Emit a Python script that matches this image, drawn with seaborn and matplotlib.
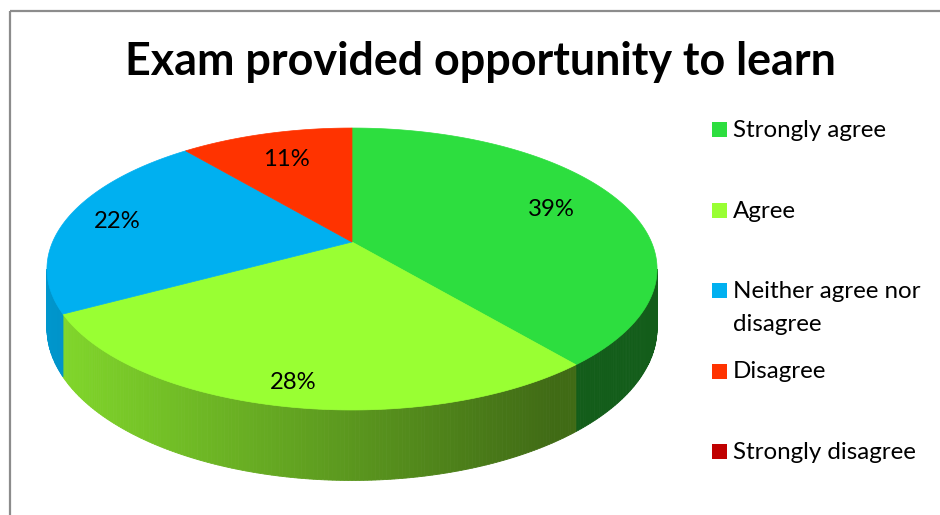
import numpy as np
import matplotlib
matplotlib.use("Agg")
import matplotlib.pyplot as plt
from matplotlib.patches import Polygon, Rectangle
import seaborn as sns

# ---- data ----
title = "Exam provided opportunity to learn"
categories = ["Strongly agree", "Agree", "Neither agree nor\ndisagree",
              "Disagree", "Strongly disagree"]
shares = [39, 28, 22, 11, 0]
colors = ["#2DDE3F", "#99FF33", "#00B0F0", "#FF3300", "#C00000"]

# ---- layout of the tilted pie (pixel space) ----
CX, CY = 352.0, 242.0      # hub of the pie
A, B = 299.4, 135.8        # horizontal / vertical radius scale
K = 0.1915                 # perspective strength
H = 57.0                   # disc thickness
LABEL_R = [0.74, 0.88, 0.82, 0.73, 0.8]

sns.set_theme(style="white")
palette = sns.color_palette(colors)
plt.rcParams["font.family"] = ["Lato", "DejaVu Sans"]

fig = plt.figure(figsize=(9.4, 5.15), dpi=100)
ax = fig.add_axes([0, 0, 1, 1])
ax.set_xlim(0, 940)
ax.set_ylim(515, 0)
ax.axis("off")


def project(phi, r=1.0, drop=0.0):
    """phi: clockwise angle from 12 o'clock (radians)."""
    u = r * np.sin(phi)
    v = -r * np.cos(phi)
    s = 1.0 / (1.0 - K * v)
    return CX + A * u * s, CY + B * v * s + drop * s


def shade(rgb, x):
    f = 0.85 - 0.45 * (x - 50.0) / 525.0
    f = min(max(f, 0.42), 0.9)
    return tuple(c * f for c in rgb)


total = float(sum(shares))
bounds = np.concatenate([[0.0], np.cumsum(shares) / total * 2 * np.pi])

# visible outer wall: front arc between the two silhouette points
phi_lo = np.arccos(-K)
phi_hi = 2 * np.pi - phi_lo

# side walls
for i, val in enumerate(shares):
    if val == 0:
        continue
    a0, a1 = max(bounds[i], phi_lo), min(bounds[i + 1], phi_hi)
    if a1 <= a0:
        continue
    n = max(int((a1 - a0) / (2 * np.pi) * 600), 2)
    ph = np.linspace(a0, a1, n + 1)
    for p0, p1 in zip(ph[:-1], ph[1:]):
        x0, y0 = project(p0)
        x1, y1 = project(p1)
        x0b, y0b = project(p0, drop=H)
        x1b, y1b = project(p1, drop=H)
        col = shade(palette[i], 0.5 * (x0 + x1))
        ax.add_patch(Polygon([(x0, y0), (x1, y1), (x1b, y1b), (x0b, y0b)],
                             closed=True, facecolor=col, edgecolor=col,
                             lw=0.6, antialiased=True))

# top faces
for i, val in enumerate(shares):
    if val == 0:
        continue
    ph = np.linspace(bounds[i], bounds[i + 1], max(int(val * 8), 4))
    xs, ys = project(ph)
    pts = [(CX, CY)] + list(zip(xs, ys))
    ax.add_patch(Polygon(pts, closed=True, facecolor=palette[i],
                         edgecolor=palette[i], lw=0.5, antialiased=True))

renderer = fig.canvas.get_renderer()


def fit(txt, width):
    bb = txt.get_window_extent(renderer)
    txt.set_fontsize(txt.get_fontsize() * width / bb.width)
    return txt.get_fontsize()


# percentage labels
lab_size = None
for i, val in enumerate(shares):
    if val == 0:
        continue
    mid = 0.5 * (bounds[i] + bounds[i + 1])
    lx, ly = project(mid, r=LABEL_R[i])
    t = ax.text(lx, ly, f"{val}%", ha="center", va="center",
                fontsize=18, color="black")
    if lab_size is None:
        lab_size = fit(t, 47)
    else:
        t.set_fontsize(lab_size)

# title
tt = ax.text(480.5, 75, title, ha="center", va="baseline",
             fontsize=30, fontweight="bold", color="black")
fit(tt, 711)

# legend
leg_size = None
for i, lab in enumerate(categories):
    base = 137 + 80.5 * i
    ax.add_patch(Rectangle((712, base - 15), 15, 15, facecolor=palette[i],
                           edgecolor="none"))
    lines = lab.split("\n")
    for j, line in enumerate(lines):
        t = ax.text(733, base + 33 * j, line, ha="left", va="baseline",
                    fontsize=16, color="black")
        if leg_size is None:
            leg_size = fit(t, 154)
        else:
            t.set_fontsize(leg_size)

# chart frame (top and left edges)
ax.plot([9.5, 940], [11, 11], color="#8C8C8C", lw=1.6, solid_capstyle="butt")
ax.plot([9.5, 9.5], [11, 515], color="#8C8C8C", lw=1.6, solid_capstyle="butt")

fig.savefig("out.png", dpi=100)
